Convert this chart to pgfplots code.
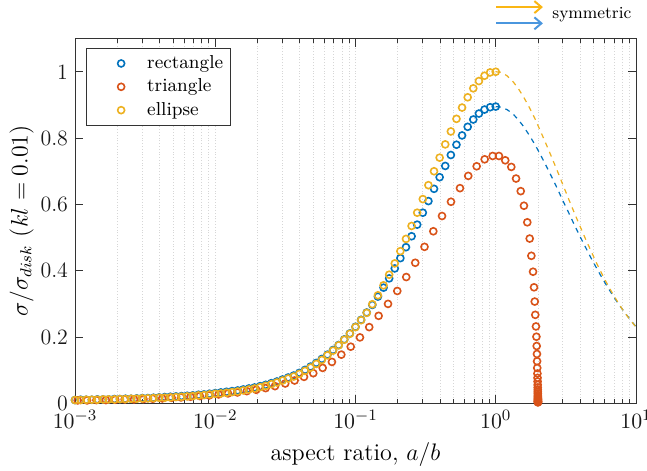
\documentclass[border=0pt]{standalone}
\usepackage{pgfplots}
\usepackage{pgfplotstable}
\pgfplotsset{compat=1.18}
\usetikzlibrary{arrows.meta,calc}
\definecolor{mblue}{RGB}{0,114,189}
\definecolor{morange}{RGB}{217,83,25}
\definecolor{myellow}{RGB}{237,177,32}
\definecolor{ayellow}{RGB}{250,182,20}
\definecolor{ablue}{RGB}{74,150,222}

\pgfplotstableread{
x rect ell
1.0000e-3 0.010 0.010
1.0965e-3 0.011 0.010
1.2023e-3 0.011 0.011
1.3183e-3 0.011 0.011
1.4454e-3 0.012 0.011
1.5849e-3 0.012 0.012
1.7378e-3 0.012 0.012
1.9055e-3 0.013 0.012
2.0893e-3 0.013 0.013
2.2909e-3 0.014 0.013
2.5119e-3 0.014 0.014
2.7542e-3 0.015 0.014
3.0200e-3 0.016 0.015
3.3113e-3 0.016 0.015
3.6308e-3 0.017 0.016
3.9811e-3 0.018 0.017
4.3652e-3 0.019 0.017
4.7863e-3 0.020 0.018
5.2481e-3 0.021 0.019
5.7544e-3 0.022 0.020
6.3096e-3 0.023 0.021
6.9183e-3 0.024 0.022
7.5858e-3 0.026 0.024
8.3176e-3 0.027 0.025
9.1201e-3 0.029 0.027
1.0000e-2 0.031 0.029
1.0965e-2 0.033 0.030
1.2023e-2 0.035 0.032
1.3183e-2 0.037 0.034
1.4454e-2 0.039 0.036
1.5849e-2 0.042 0.039
1.7378e-2 0.045 0.042
1.9055e-2 0.048 0.045
2.0893e-2 0.052 0.049
2.2909e-2 0.056 0.053
2.5119e-2 0.061 0.058
2.7542e-2 0.066 0.063
3.0200e-2 0.072 0.069
3.3113e-2 0.078 0.075
3.6308e-2 0.084 0.081
3.9811e-2 0.092 0.089
4.3652e-2 0.101 0.098
4.7863e-2 0.111 0.108
5.2481e-2 0.122 0.119
5.7544e-2 0.134 0.131
6.3096e-2 0.147 0.145
6.9183e-2 0.161 0.159
7.5858e-2 0.176 0.175
8.3176e-2 0.193 0.192
9.1201e-2 0.211 0.210
1.0000e-1 0.231 0.230
1.0965e-1 0.252 0.251
1.2023e-1 0.274 0.273
1.3183e-1 0.297 0.299
1.4454e-1 0.322 0.326
1.5849e-1 0.349 0.356
1.7378e-1 0.377 0.388
1.9055e-1 0.407 0.422
2.0893e-1 0.438 0.459
2.2909e-1 0.471 0.496
2.5119e-1 0.504 0.535
2.7542e-1 0.539 0.575
3.0200e-1 0.575 0.616
3.3113e-1 0.610 0.658
3.6308e-1 0.647 0.700
3.9811e-1 0.682 0.741
4.3652e-1 0.716 0.781
4.7863e-1 0.749 0.820
5.2481e-1 0.780 0.858
5.7544e-1 0.808 0.892
6.3096e-1 0.834 0.923
6.9183e-1 0.856 0.950
7.5858e-1 0.874 0.972
8.3176e-1 0.886 0.988
9.1201e-1 0.893 0.998
1.0000 0.895 1.000
}\griddata

\pgfplotstableread{
x rect ell
1.0000 0.895 1.000
1.0965 0.893 0.998
1.2023 0.886 0.988
1.3183 0.874 0.972
1.4454 0.856 0.950
1.5849 0.834 0.923
1.7378 0.808 0.892
1.9055 0.780 0.858
2.0893 0.749 0.820
2.2909 0.716 0.781
2.5119 0.682 0.741
2.7542 0.647 0.700
3.0200 0.610 0.658
3.3113 0.575 0.616
3.6308 0.539 0.575
3.9811 0.504 0.535
4.3652 0.471 0.496
4.7863 0.438 0.459
5.2481 0.407 0.422
5.7544 0.377 0.388
6.3096 0.349 0.356
6.9183 0.322 0.326
7.5858 0.297 0.299
8.3176 0.274 0.273
9.1201 0.252 0.251
10.000 0.231 0.230
}\symdata

\pgfplotstableread{
x y
0.001045 0.009
0.001219 0.009
0.001422 0.010
0.001660 0.010
0.001936 0.011
0.002259 0.012
0.002636 0.012
0.003076 0.013
0.003589 0.014
0.004188 0.015
0.004887 0.017
0.005702 0.018
0.006653 0.020
0.007762 0.022
0.009057 0.024
0.01057 0.027
0.01233 0.030
0.01439 0.033
0.01679 0.037
0.01959 0.041
0.02286 0.046
0.02667 0.052
0.03155 0.060
0.03681 0.069
0.04295 0.080
0.05000 0.091
0.05834 0.107
0.06792 0.125
0.07925 0.147
0.09247 0.171
0.1076 0.199
0.1253 0.230
0.1462 0.264
0.1706 0.300
0.1986 0.339
0.2301 0.381
0.2667 0.424
0.3105 0.472
0.3589 0.519
0.4140 0.565
0.4797 0.608
0.5559 0.649
0.6368 0.686
0.7311 0.715
0.8337 0.736
0.9506 0.746
1.054 0.746
1.169 0.733
1.291 0.713
1.396 0.678
1.507 0.640
1.589 0.596
1.679 0.546
1.746 0.497
1.795 0.445
1.845 0.397
1.875 0.350
1.897 0.307
1.914 0.267
1.936 0.232
1.950 0.201
1.959 0.173
1.968 0.149
1.972 0.127
1.977 0.107
1.982 0.090
1.986 0.077
1.989 0.066
1.991 0.056
1.993 0.048
1.994 0.041
1.995 0.035
1.996 0.030
1.997 0.025
1.997 0.021
1.998 0.018
1.998 0.015
1.999 0.013
1.999 0.011
1.999 0.009
2.000 0.007
2.000 0.006
2.000 0.005
2.000 0.004
2.000 0.003
}\tridata

\begin{document}
\begin{tikzpicture}
\begin{axis}[
  xmode=log,
  scale only axis,
  width=280.5bp, height=182.4bp,
  xmin=1e-3, xmax=10, ymin=0, ymax=1.1,
  xtick={1e-3,1e-2,1e-1,1,10},
  ytick={0,0.2,0.4,0.6,0.8,1},
  yticklabels={0,0.2,0.4,0.6,0.8,1},
  tick align=inside,
  major tick length=4bp, minor tick length=2.2bp,
  xmajorgrids, xminorgrids,
  major grid style={densely dotted, black!16, line width=0.4bp},
  minor grid style={densely dotted, black!16, line width=0.4bp},
  axis line style={black!80, line width=0.4bp},
  every tick/.style={black!80, line width=0.4bp},
  tick label style={font=\fontsize{11}{13}\selectfont, black!90},
  label style={font=\fontsize{12.1}{14}\selectfont},
  xlabel={aspect ratio, $a/b$},
  ylabel={$\sigma/\sigma_{disk}$ ($kl = 0.01$)},
  ylabel style={at={(axis description cs:-0.095,0.5)}, anchor=center},
  clip=false,
  legend style={at={(axis description cs:0.0196,0.974)}, anchor=north west,
    draw=black!80, line width=0.4bp, font=\fontsize{9.4}{12}\selectfont,
    inner xsep=1.5bp, inner ysep=1.5bp, row sep=-0.3bp},
  legend cell align=left,
  legend image code/.code={%
    \path[draw=none, fill=none] (0cm,-0.1cm) rectangle (0.95cm,0.1cm);
    \draw[#1, only marks] plot coordinates {(0.56cm,0cm)};},
]
\addplot[only marks, mark=o, mark size=1.75bp, mblue, line width=0.8bp] table[x=x,y=rect]{\griddata};
\addlegendentry{rectangle}
\addplot[only marks, mark=o, mark size=1.75bp, morange, line width=0.8bp] table[x=x,y=y]{\tridata};
\addlegendentry{triangle}
\addplot[only marks, mark=o, mark size=1.75bp, myellow, line width=0.8bp] table[x=x,y=ell]{\griddata};
\addlegendentry{ellipse}
\addplot[mblue, dashed, dash pattern=on 2.5bp off 2.5bp, line width=0.6bp, forget plot] table[x=x,y=rect]{\symdata};
\addplot[myellow, dashed, dash pattern=on 2.5bp off 2.5bp, line width=0.6bp, forget plot] table[x=x,y=ell]{\symdata};
\coordinate (ll) at (rel axis cs:0,0);
\coordinate (ur) at (rel axis cs:1,1);
\draw[ayellow, line width=1bp, -{Straight Barb[length=3.5bp,width=6bp]}] (axis cs:1.005,1.195) -- (axis cs:2.17,1.195);
\draw[ablue, line width=1bp, -{Straight Barb[length=3.5bp,width=6bp]}] (axis cs:1.005,1.146) -- (axis cs:2.17,1.146);
\node[anchor=base west, inner sep=0pt, font=\fontsize{8.5}{10}\selectfont] at (axis cs:2.52,1.161) {symmetric};
\end{axis}
\pgfresetboundingbox
\path ($(ll)+(-37.5bp,-33.35bp)$) rectangle ($(ur)+(5.5bp,19.3bp)$);
\end{tikzpicture}
\end{document}
